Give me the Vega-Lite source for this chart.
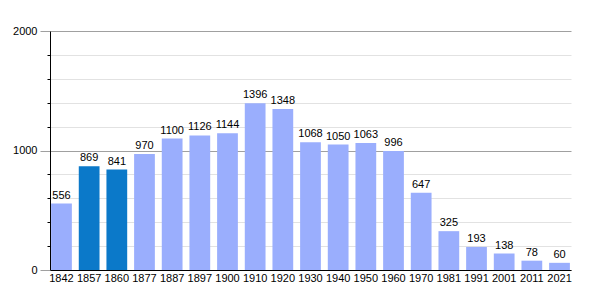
{
  "$schema": "https://vega.github.io/schema/vega-lite/v6.json",
  "autosize": "none",
  "width": 521,
  "height": 239,
  "padding": {"left": 50, "top": 31, "right": 29, "bottom": 30},
  "background": "white",
  "config": {
    "view": {"stroke": null},
    "font": "Liberation Sans"
  },
  "data": {
    "values": [
      {"year": "1842", "population": 556},
      {"year": "1857", "population": 869},
      {"year": "1860", "population": 841},
      {"year": "1877", "population": 970},
      {"year": "1887", "population": 1100},
      {"year": "1897", "population": 1126},
      {"year": "1900", "population": 1144},
      {"year": "1910", "population": 1396},
      {"year": "1920", "population": 1348},
      {"year": "1930", "population": 1068},
      {"year": "1940", "population": 1050},
      {"year": "1950", "population": 1063},
      {"year": "1960", "population": 996},
      {"year": "1970", "population": 647},
      {"year": "1981", "population": 325},
      {"year": "1991", "population": 193},
      {"year": "2001", "population": 138},
      {"year": "2011", "population": 78},
      {"year": "2021", "population": 60}
    ]
  },
  "encoding": {
    "x": {
      "field": "year",
      "type": "ordinal",
      "sort": null,
      "scale": {"paddingInner": 0.25, "paddingOuter": 0.04},
      "axis": {
        "title": null,
        "labelAngle": 0,
        "labelFontSize": 11,
        "labelColor": "#000",
        "labelPadding": 2,
        "ticks": false,
        "domainColor": "#000",
        "domainWidth": 1
      }
    },
    "y": {
      "field": "population",
      "type": "quantitative",
      "scale": {"domain": [0, 2000], "nice": false},
      "axis": {
        "title": null,
        "values": [0, 200, 400, 600, 800, 1000, 1200, 1400, 1600, 1800, 2000],
        "labelExpr": "datum.value % 1000 === 0 ? datum.value : ''",
        "labelFontSize": 11,
        "labelColor": "#000",
        "labelPadding": 3,
        "tickSize": {"condition": {"test": "datum.value % 1000 === 0", "value": 10}, "value": 3},
        "tickColor": {"condition": {"test": "datum.value % 1000 === 0", "value": "#a0a0a0"}, "value": "#000"},
        "domainColor": "#000",
        "grid": true,
        "gridColor": {"condition": {"test": "datum.value % 1000 === 0", "value": "#a0a0a0"}, "value": "#e2e2e2"}
      }
    }
  },
  "layer": [
    {
      "mark": {"type": "bar"},
      "encoding": {
        "color": {
          "condition": {"test": "datum.year === '1857' || datum.year === '1860'", "value": "#0b79c9"},
          "value": "#9aaefd"
        }
      }
    },
    {
      "mark": {"type": "text", "baseline": "bottom", "dy": -3, "fontSize": 11, "color": "#000"},
      "encoding": {
        "text": {"field": "population", "type": "quantitative"}
      }
    }
  ]
}
